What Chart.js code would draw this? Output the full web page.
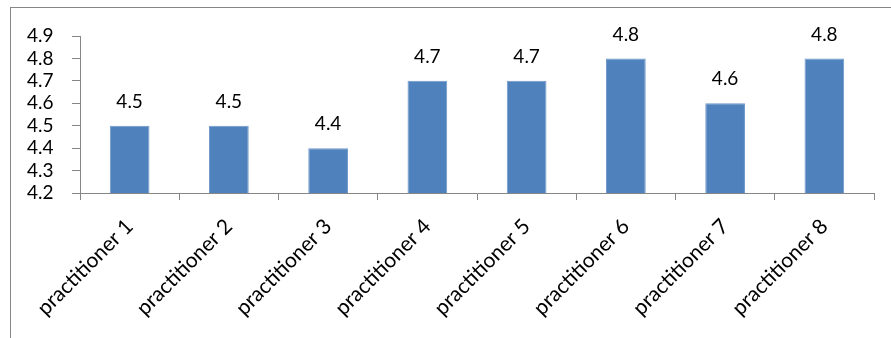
<!DOCTYPE html>
<html>
<head>
<meta charset="utf-8">
<script src="https://cdn.jsdelivr.net/npm/chart.js@4"></script>
<style>
  html, body { margin: 0; padding: 0; background: #fff; overflow: hidden; }
  #wrap { position: relative; width: 891px; height: 338px; }
  #frame { position: absolute; left: 10px; top: 7px; width: 1000px; height: 1000px; border: 1px solid #868686; box-sizing: border-box; }
  canvas { position: absolute; left: 0; top: 0; }
</style>
</head>
<body>
<div id="wrap">
  <div id="frame"></div>
  <canvas id="practChart" width="891" height="338"></canvas>
</div>
<script>
const practitioners = ['practitioner 1', 'practitioner 2', 'practitioner 3', 'practitioner 4',
                       'practitioner 5', 'practitioner 6', 'practitioner 7', 'practitioner 8'];
const scores = [4.5, 4.5, 4.4, 4.7, 4.7, 4.8, 4.6, 4.8];
const yMin = 4.2;
const yMax = 4.9;
const yStep = 0.1;

const FONT = 'Lato, "Open Sans", sans-serif';
const AXIS = '#868686';

// value labels on top of each bar
const barLabels = {
    id: 'barLabels',
    afterDatasetsDraw(chart) {
        const ctx = chart.ctx;
        const meta = chart.getDatasetMeta(0);
        ctx.save();
        ctx.font = '19px ' + FONT;
        ctx.fillStyle = '#000';
        ctx.textAlign = 'center';
        ctx.textBaseline = 'middle';
        meta.data.forEach((bar, i) => {
            ctx.fillText(scores[i].toFixed(1), bar.x, bar.y - 24);
        });
        ctx.restore();
    }
};

const ctx = document.getElementById('practChart').getContext('2d');
const practChart = new Chart(ctx, {
    type: 'bar',
    data: {
        labels: practitioners,
        datasets: [{
            data: scores,
            backgroundColor: '#4F81BD',
            borderColor: '#6E97C9',
            borderWidth: 1,
            barPercentage: 0.4,
            categoryPercentage: 1.0
        }]
    },
    options: {
        responsive: false,
        animation: false,
        events: [],
        layout: { padding: { left: 27, right: 17, top: 36, bottom: 0 } },
        plugins: { legend: { display: false }, tooltip: { enabled: false } },
        scales: {
            x: {
                grid: { display: true, drawOnChartArea: false, color: AXIS, tickLength: 7, offset: true },
                border: { color: AXIS, width: 1 },
                ticks: {
                    color: '#000',
                    font: { family: FONT, size: 21 },
                    minRotation: 45,
                    maxRotation: 45,
                    autoSkip: false,
                    padding: 14
                },
                afterFit(scale) { scale.height = 338 - 193; }
            },
            y: {
                min: yMin,
                max: yMax,
                grid: { display: true, drawOnChartArea: false, color: AXIS, tickLength: 8 },
                border: { color: AXIS, width: 1 },
                ticks: {
                    stepSize: yStep,
                    color: '#000',
                    font: { family: FONT, size: 19 },
                    crossAlign: 'far',
                    autoSkip: false,
                    callback: v => v.toFixed(1)
                },
                afterFit(scale) { scale.width = 80 - 27; }
            }
        }
    },
    plugins: [barLabels]
});
</script>
</body>
</html>
